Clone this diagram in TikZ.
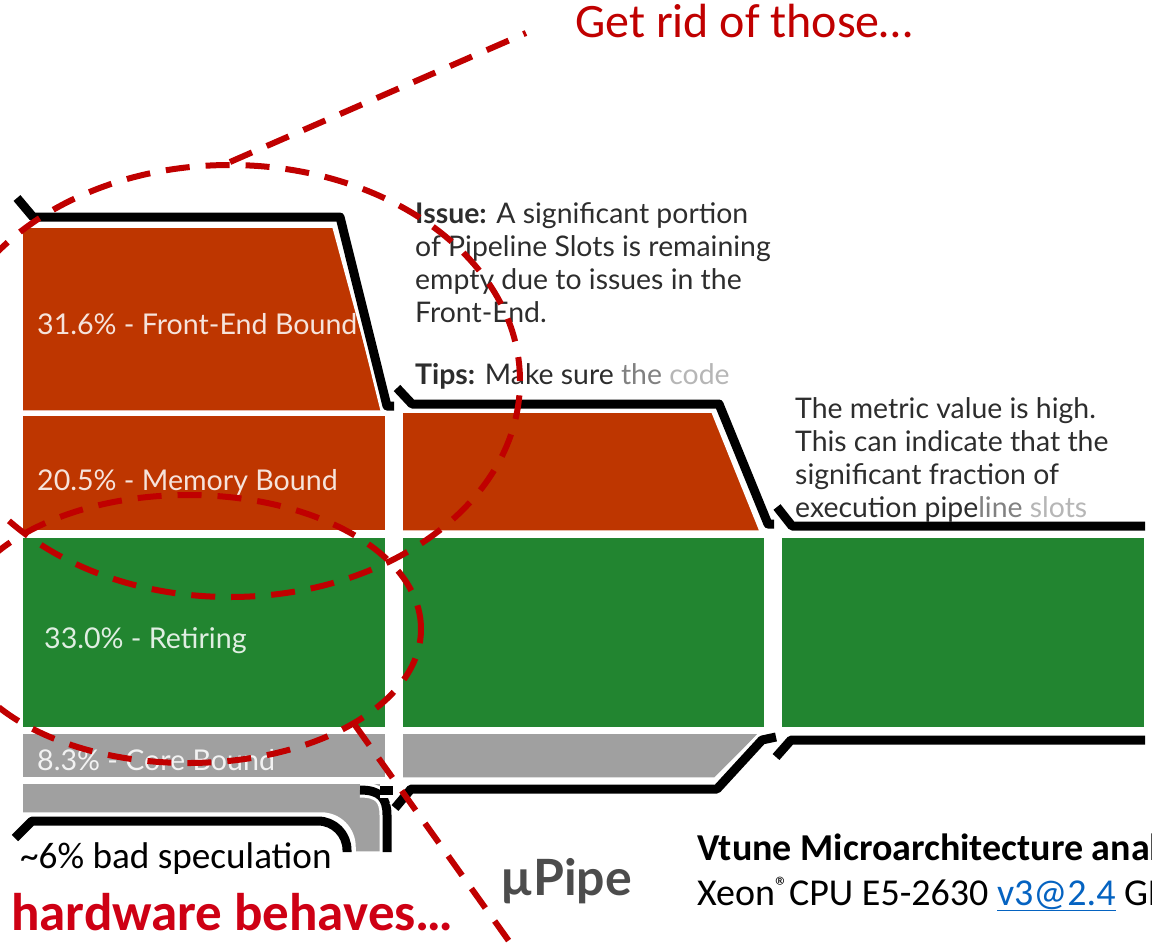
\documentclass[tikz,border=0pt]{standalone}
\usepackage{fontspec}
\usetikzlibrary{shapes.geometric}
\newfontfamily\lato{Lato}
\newfontfamily\calibri{Carlito}
\definecolor{fe}{RGB}{190,54,0}
\definecolor{ret}{RGB}{34,133,48}
\definecolor{cb}{RGB}{160,160,160}
\definecolor{note}{RGB}{192,0,0}
\definecolor{alarm}{RGB}{206,0,20}
\definecolor{ink}{RGB}{45,45,45}
\definecolor{link}{RGB}{5,99,193}
\tikzset{
  block/.style={draw=white, line width=1.5pt},
  pipe/.style={draw=black, line width=9pt, line join=round,
    preaction={draw=white, line width=15pt}},
  redloop/.style={draw=note, line width=6pt, dash pattern=on 24pt off 16pt},
  slotlabel/.style={anchor=base west, inner sep=0pt,
    font=\lato\fontsize{28.6}{34}\selectfont},
  hint/.style={anchor=base west, inner sep=0pt, text=ink,
    font=\lato\fontsize{28.4}{33}\selectfont},
  plain/.style={anchor=base west, inner sep=0pt},
}
\begin{document}
\begin{tikzpicture}[x=1pt,y=-1pt]
\useasboundingbox (0,0) rectangle (1152,951);
\clip (0,0) rectangle (1152,951);

% ---- first stage of the pipe
\path[block, fill=fe] (22,227) -- (333,227) -- (383,411) -- (22,411) -- cycle;
\path[block, fill=fe] (22,415) rectangle (386,531);
\path[block, fill=ret] (22,537) rectangle (386,728);
\path[block, fill=cb] (22,733) rectangle (386,778);
\path[block, fill=cb] (22,783) -- (382,783) -- (382,852) -- (355,852) -- (355,847)
  .. controls (355,828) and (340,813) .. (321,813) -- (22,813) -- cycle;

% ---- second stage
\path[block, fill=fe] (402,412) -- (712,412) -- (760,531) -- (402,531) -- cycle;
\path[block, fill=ret] (402,537) rectangle (765,728);
\path[block, fill=cb] (402,733) -- (760,733) -- (715,778) -- (402,778) -- cycle;

% ---- third stage
\path[block, fill=ret] (781,537) rectangle (1145,728);

% ---- pipe walls
\draw[pipe] (17,198) -- (33,217) -- (340,217) -- (387,406) -- (394,406);
\draw[pipe] (397,388) -- (412,404) -- (719,404) -- (768,524) -- (774,524);
\draw[pipe] (777,507) -- (792,526) -- (1145,526);
\draw[pipe] (15,838) -- (32,821) -- (318,821)
  .. controls (334,821) and (347,834) .. (347,850) -- (347,852);
\draw[pipe] (360,790) .. controls (380,790) and (387,798) .. (387,815) -- (387,852);
\draw[pipe] (380,790) -- (393,790);
\draw[pipe] (395,808) -- (411,789) -- (717,789) -- (762,740) -- (776,737);
\draw[pipe] (776,757) -- (791,740) -- (1145,740);

% ---- slot labels
\node[slotlabel, text=white!86!fe] (feLabel) at (37,334) {31.6\% - Front-End Bound};
\node[slotlabel, text=white!86!fe] (memLabel) at (37,490) {20.5\% - Memory Bound};
\node[slotlabel, text=white!86!ret] (retLabel) at (44,648) {33.0\% - Retiring};
\node[slotlabel, text=white!86!cb] (coreLabel) at (37,770) {8.3\% - Core Bound};

% ---- issue description
\node[hint] (issueA) at (415,223) {\bfseries Issue:\mdseries{} A significant portion};
\node[hint] (issueB) at (415,256) {of Pipeline Slots is remaining};
\node[hint] (issueC) at (415,289) {empty due to issues in the};
\node[hint] (issueD) at (415,322) {Front-End.};
\node[hint] (tips) at (415,384) {\bfseries Tips:\mdseries{} Make sure
  \textcolor{ink!60}{the} \textcolor{ink!35}{code}};

\node[hint] (metricA) at (795,418) {The metric value is high.};
\node[hint] (metricB) at (795,451) {This can indicate that the};
\node[hint] (metricC) at (795,484) {significant fraction of};
\node[hint] (metricD) at (795,517) {execution pipe\textcolor{ink!60}{line}
  \textcolor{ink!35}{slots}};

% ---- captions
\node[plain, font=\calibri\fontsize{37.2}{43}\selectfont] (badSpec) at (20,868)
  {\textasciitilde 6\% bad speculation};
\node[plain, text=alarm, font=\calibri\bfseries\fontsize{53}{62}\selectfont] (hwNote)
  at (11,930) {hardware behaves…};
\node[plain, text=black!70, font=\lato\bfseries\fontsize{50}{58}\selectfont] (upipe)
  at (500,895) {µPipe};
\node[plain, font=\calibri\bfseries\fontsize{38}{45}\selectfont] (vtune)
  at (697,860) {Vtune Microarchitecture analysis};
\node[plain, font=\calibri\fontsize{38}{45}\selectfont] (xeon)
  at (697,905) {Xeon\textsuperscript{®}CPU E5-2630 \textcolor{link}{\underline{v3@2.4}} GHz};
\node[plain, text=note, font=\calibri\fontsize{48}{56}\selectfont] (ridNote)
  at (575,37) {Get rid of those…};

% ---- red annotations
\node[ellipse, redloop, inner sep=0pt, minimum width=580pt, minimum height=432pt]
  (bigloop) at (230,381) {};
\node[ellipse, redloop, inner sep=0pt, minimum width=466pt, minimum height=268pt]
  (smallloop) at (188,629) {};
\coordinate (ridEnd) at (526,33);
\coordinate (hwEnd) at (526,965);
\draw[redloop] (bigloop.north) -- (ridEnd);
\draw[redloop] (smallloop.-30) -- (hwEnd);
\end{tikzpicture}
\end{document}
